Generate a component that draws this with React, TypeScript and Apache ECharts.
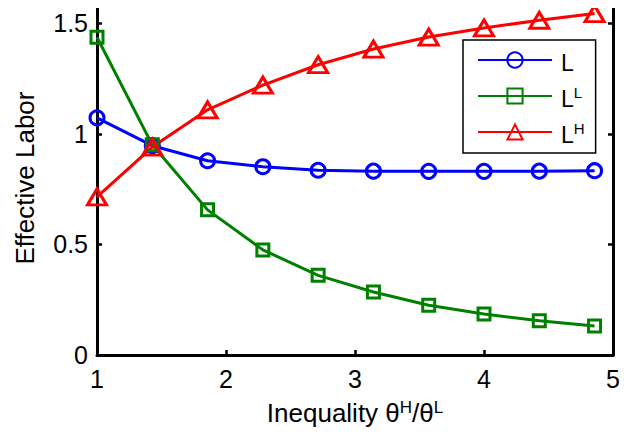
import React, { useEffect, useRef } from "react";
import * as echarts from "echarts";

const xValues = [1, 1.4286, 1.8571, 2.2857, 2.7143, 3.1429, 3.5714, 4, 4.4286, 4.8571];
const seriesL = [1.072, 0.946, 0.878, 0.851, 0.835, 0.831, 0.830, 0.830, 0.831, 0.833];
const seriesLL = [1.436, 0.950, 0.656, 0.475, 0.360, 0.285, 0.225, 0.185, 0.155, 0.131];
const seriesLH = [0.715, 0.940, 1.108, 1.220, 1.312, 1.383, 1.437, 1.478, 1.513, 1.543];
const seriesNames = ["L", "L^L", "L^H"];
const legendLabels: Record<string, string> = {
  "L": "{b|L}",
  "L^L": "{b|L}{s|L}",
  "L^H": "{b|L}{s|H}",
};
const yTickLabels = ["0", "0.5", "1", "1.5"];
const xTickLabels = ["1", "2", "3", "4", "5"];

const FONT = "'Liberation Sans', Arial, Helvetica, sans-serif";

export default function App() {
  const ref = useRef<HTMLDivElement>(null);
  useEffect(() => {
    if (!ref.current) return;
    const chart = echarts.init(ref.current, null, { renderer: "svg" });
    const mk = (vals: number[]) => xValues.map((x, i) => [x, vals[i]]);
    const axisLine = { show: true, onZero: false, lineStyle: { color: "#000", width: 3 } };
    const axisTick = { show: true, inside: true, length: 5, lineStyle: { color: "#000", width: 2.5 } };
    const nameRich = {
      b: { fontSize: 26, fontFamily: FONT, color: "#000", verticalAlign: "bottom", lineHeight: 30 },
      s: { fontSize: 17, fontFamily: FONT, color: "#000", verticalAlign: "bottom", padding: [0, 0, 10, 0] },
    };
    const legendRich = {
      b: { fontSize: 23, fontFamily: FONT, color: "#000", verticalAlign: "bottom", lineHeight: 28 },
      s: { fontSize: 15, fontFamily: FONT, color: "#000", verticalAlign: "bottom", padding: [0, 0, 10, 0] },
    };
    const option: any = {
      animation: false,
      backgroundColor: "#fff",
      grid: { left: 97, top: 1, right: 18, bottom: 82, containLabel: false },
      legend: {
        left: 463,
        top: 40,
        orient: "vertical",
        backgroundColor: "#fff",
        borderColor: "#000",
        borderWidth: 1.5,
        borderRadius: 0,
        padding: [11, 11, 7, 14],
        itemWidth: 74,
        itemHeight: 19,
        itemGap: 11,
        data: seriesNames,
        formatter: (name: string) => legendLabels[name],
        textStyle: { fontFamily: FONT, fontSize: 23, color: "#000", rich: legendRich, padding: [0, 0, 0, 4] },
      },
      xAxis: [
        {
          type: "value",
          min: 1,
          max: 5,
          interval: 1,
          position: "bottom",
          axisLine,
          axisTick,
          splitLine: { show: false },
          axisLabel: {
            margin: 11,
            fontSize: 25,
            fontFamily: FONT,
            color: "#000",
            formatter: (v: number) => xTickLabels[Math.round(v) - 1] ?? "",
          },
          name: "{b|Inequality θ}{s|H}{b|/θ}{s|L}",
          nameLocation: "middle",
          nameGap: 41,
          nameTextStyle: { rich: nameRich },
        },
        {
          type: "value",
          min: 1,
          max: 5,
          interval: 1,
          position: "top",
          axisLine,
          axisTick,
          splitLine: { show: false },
          axisLabel: { show: false },
        },
      ],
      yAxis: [
        {
          type: "value",
          min: 0,
          max: 1.6,
          interval: 0.5,
          position: "left",
          axisLine,
          axisTick,
          splitLine: { show: false },
          axisLabel: {
            margin: 9,
            fontSize: 25,
            fontFamily: FONT,
            color: "#000",
            formatter: (v: number) => {
              const idx = Math.round(v / 0.5);
              return Math.abs(v - idx * 0.5) < 1e-6 ? yTickLabels[idx] ?? "" : "";
            },
          },
          name: "Effective Labor",
          nameLocation: "middle",
          nameGap: 59,
          nameTextStyle: { fontSize: 26, fontFamily: FONT, color: "#000" },
        },
        {
          type: "value",
          min: 0,
          max: 1.6,
          interval: 0.5,
          position: "right",
          axisLine,
          axisTick,
          splitLine: { show: false },
          axisLabel: { show: false },
        },
      ],
      series: [
        {
          name: "L",
          type: "line",
          data: mk(seriesL),
          symbol: "circle",
          symbolSize: 14,
          color: "#0000ff",
          lineStyle: { color: "#0000ff", width: 3 },
          itemStyle: { color: "rgba(255,255,255,0)", borderColor: "#0000ff", borderWidth: 3 },
        },
        {
          name: "L^L",
          type: "line",
          data: mk(seriesLL),
          symbol: "rect",
          symbolSize: 12,
          color: "#008000",
          lineStyle: { color: "#008000", width: 3 },
          itemStyle: { color: "rgba(255,255,255,0)", borderColor: "#008000", borderWidth: 3 },
        },
        {
          name: "L^H",
          type: "line",
          data: mk(seriesLH),
          symbol: "triangle",
          symbolSize: [19, 16],
          color: "#ff0000",
          lineStyle: { color: "#ff0000", width: 3 },
          itemStyle: { color: "rgba(255,255,255,0)", borderColor: "#ff0000", borderWidth: 3 },
        },
      ],
    };
    chart.setOption(option);
    return () => chart.dispose();
  }, []);
  return <div ref={ref} style={{ width: 631, height: 437, margin: -8 }} />;
}
